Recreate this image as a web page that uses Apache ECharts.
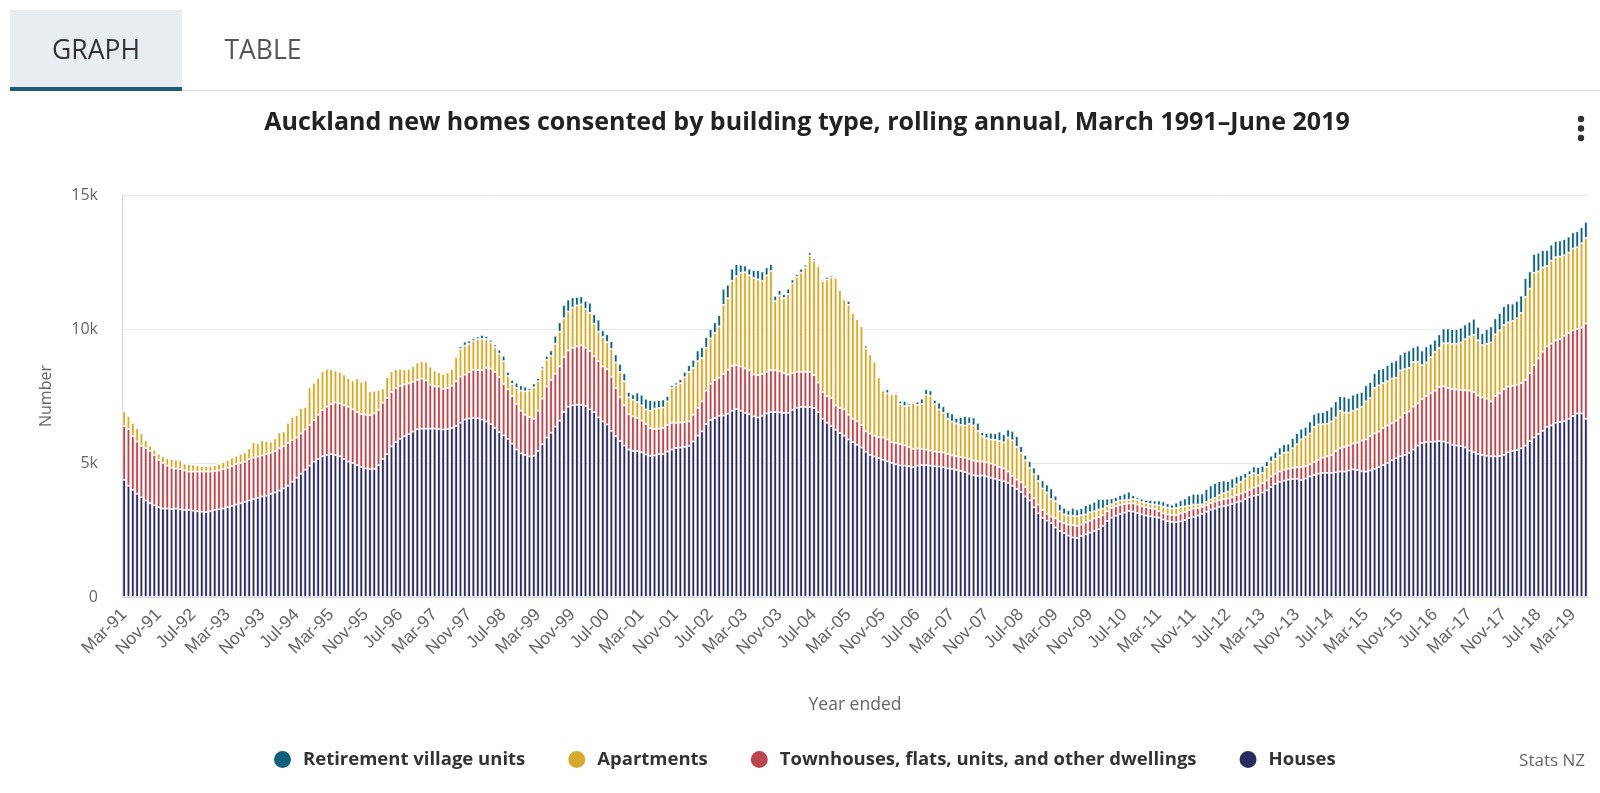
<!DOCTYPE html>
<html>
<head>
<meta charset="utf-8">
<script src="https://cdn.jsdelivr.net/npm/echarts@6/dist/echarts.min.js"></script>
<style>
html,body{margin:0;padding:0;background:#fff;}
#chart{width:1600px;height:793px;}
</style>
</head>
<body>
<div id="chart"></div>
<script>
// ---- Data (rolling annual counts, Mar-91 .. Jun-19) ----
const monthNames = ['Jan','Feb','Mar','Apr','May','Jun','Jul','Aug','Sep','Oct','Nov','Dec'];
const startYear = 1991, startMonth = 2, monthCount = 340;
const yTicks = [0, 5000, 10000, 15000];
const yTickLabels = ['0', '5k', '10k', '15k'];

const houses = [
4370,4150,4000,3850,3720,3600,3500,3420,3350,3300,
3300,3280,3300,3270,3250,3250,3220,3200,3180,3170,
3200,3250,3270,3300,3350,3400,3450,3500,3550,3600,
3650,3700,3750,3780,3850,3900,3970,4050,4150,4300,
4450,4600,4750,4900,5050,5150,5250,5300,5330,5300,
5250,5150,5050,5000,4920,4850,4800,4770,4780,4920,
5150,5330,5620,5780,5900,6000,6080,6170,6260,6280,
6280,6280,6280,6270,6250,6270,6300,6380,6500,6620,
6660,6680,6670,6620,6550,6450,6310,6150,6030,5900,
5720,5500,5360,5300,5250,5270,5450,5700,5950,6130,
6360,6580,6900,7100,7150,7170,7170,7130,7000,6900,
6700,6550,6440,6200,6000,5820,5650,5500,5450,5450,
5400,5320,5270,5280,5330,5330,5430,5500,5560,5580,
5600,5640,5800,6020,6180,6450,6600,6680,6760,6770,
6840,6950,7010,6950,6870,6820,6740,6700,6760,6850,
6900,6900,6890,6870,6870,6980,7060,7090,7090,7090,
7050,6900,6650,6500,6380,6240,6120,6020,5880,5780,
5680,5580,5420,5300,5240,5180,5120,5060,5000,4950,
4910,4900,4880,4850,4900,4920,4920,4900,4880,4870,
4840,4800,4780,4740,4700,4660,4600,4540,4520,4530,
4500,4450,4410,4360,4320,4260,4150,4030,3920,3750,
3600,3350,3120,2950,2850,2760,2600,2460,2380,2290,
2220,2200,2280,2340,2400,2460,2530,2650,2840,2960,
3030,3090,3150,3210,3190,3130,3080,3040,3010,2990,
2960,2890,2830,2800,2790,2820,2870,2950,2990,3040,
3100,3180,3260,3300,3360,3390,3420,3470,3530,3570,
3650,3720,3780,3810,3900,3980,4100,4220,4300,4340,
4380,4400,4410,4360,4420,4500,4550,4600,4630,4630,
4630,4650,4680,4680,4720,4760,4740,4690,4680,4720,
4780,4850,4920,5000,5100,5180,5250,5300,5380,5500,
5650,5740,5780,5790,5800,5820,5800,5760,5680,5650,
5630,5580,5460,5400,5340,5300,5270,5250,5250,5260,
5300,5400,5450,5480,5550,5650,5820,5950,6080,6200,
6350,6400,6500,6530,6560,6650,6750,6850,6850,6650
];

const townhouses = [
2010,2120,2000,1950,1920,1950,1950,1880,1770,1700,
1600,1540,1490,1500,1470,1430,1460,1480,1500,1510,
1480,1450,1450,1470,1470,1480,1510,1500,1500,1550,
1550,1540,1530,1550,1530,1550,1580,1570,1600,1550,
1500,1500,1500,1520,1550,1650,1720,1800,1870,1960,
1970,2000,2050,2000,1980,1970,2000,2010,2070,2060,
2100,2100,2030,2020,1980,1930,1890,1860,1840,1870,
1800,1640,1580,1580,1520,1530,1580,1670,1720,1680,
1740,1800,1800,1840,2000,2070,2090,2050,1920,1850,
1780,1700,1590,1500,1470,1380,1500,1700,1900,1970,
1970,2020,2050,2100,2150,2180,2220,2170,2180,2080,
2100,2050,2060,2020,1800,1630,1500,1320,1290,1230,
1180,1130,1030,990,950,970,990,1000,940,930,
920,910,1000,1030,1120,1250,1350,1420,1420,1550,
1640,1670,1640,1650,1660,1640,1560,1580,1560,1550,
1560,1560,1530,1480,1430,1370,1340,1310,1310,1310,
1230,1100,1000,1000,1040,910,930,980,920,870,
880,840,760,800,780,780,830,820,780,800,
800,760,720,680,640,610,580,560,550,540,
550,540,500,510,520,540,550,550,540,520,
520,530,520,490,480,420,370,350,360,350,
300,330,330,300,250,240,340,360,380,410,
460,450,420,440,450,470,450,400,360,360,
360,350,320,280,300,320,300,310,300,300,
240,230,250,260,270,300,300,290,310,280,
260,240,240,260,250,260,260,250,270,290,
270,280,300,340,350,370,400,380,380,410,
410,420,430,490,460,450,490,520,570,620,
670,800,870,920,930,970,1020,1150,1200,1280,
1320,1320,1380,1400,1380,1400,1450,1560,1540,1600,
1570,1640,1720,1810,1900,2020,2060,2040,2080,2090,
2100,2130,2240,2250,2180,2150,2130,2050,2250,2340,
2450,2450,2430,2440,2430,2450,2530,2700,2820,2950,
3000,3050,3070,3090,3190,3200,3200,3150,3200,3550
];

const apartments = [
550,490,500,500,480,300,200,200,230,250,
280,330,340,330,260,280,260,240,220,200,
220,220,250,260,300,320,310,350,350,400,
580,510,570,500,420,470,600,560,750,870,
850,950,850,1400,1400,1380,1450,1420,1300,1190,
1180,1150,1080,1080,1260,1210,1280,890,850,750,
530,770,770,700,640,560,550,590,650,650,
700,680,590,550,560,580,620,900,1030,1080,
1050,1070,1150,1170,1070,980,920,880,850,500,
450,600,750,870,980,1170,1100,1100,1000,900,
1120,1300,1450,1450,1500,1530,1530,1450,1420,1220,
1100,1100,1010,1030,950,950,900,630,620,600,
570,550,650,760,770,770,880,1300,1400,1470,
1680,1850,1750,1750,1620,1600,1700,1750,1920,2580,
2670,3180,3320,3500,3590,3540,3600,3570,3480,3600,
3710,2580,2830,2800,3000,3350,3550,3700,3900,4340,
4270,4350,4150,4350,4510,4750,4400,4100,4100,3950,
3810,3680,3100,2950,2760,2240,1750,1720,1770,1830,
1490,1460,1550,1710,1630,1670,2050,2050,1770,1590,
1480,1310,1270,1230,1200,1200,1310,1310,1140,950,
900,900,930,970,970,1270,1330,1220,1100,1000,
920,900,880,800,800,650,640,380,320,340,
350,370,350,300,310,270,280,250,200,140,
160,160,140,140,160,170,170,150,160,160,
220,250,250,240,260,240,210,170,150,130,
100,130,140,140,190,220,250,330,400,440,
500,550,540,400,380,500,550,550,600,630,
610,730,860,1030,1100,1150,1310,1320,1250,1220,
1250,1250,1400,1280,1230,1220,1250,1260,1420,1420,
1700,1730,1680,1650,1670,1600,1750,1640,1630,1670,
1560,1270,1250,1350,1450,1460,1610,1670,1690,1710,
1770,1910,2020,2130,2060,1950,2050,2200,2300,2350,
2400,2400,2420,2480,2620,3100,3150,3450,3250,3150,
3000,3100,3110,3080,3000,3000,3050,3050,3150,3200
];

const retirement = [
0,0,0,0,0,0,0,0,0,0,
0,0,0,40,0,0,30,30,0,0,
0,40,20,0,0,0,0,0,0,0,
0,0,0,0,0,0,0,0,0,0,
0,0,0,0,0,0,0,0,0,0,
0,0,0,0,0,0,0,0,0,0,
0,0,0,0,0,0,0,0,0,0,
0,0,0,0,0,30,40,50,100,150,
120,100,100,150,120,100,100,150,200,150,
150,200,200,180,100,150,120,100,150,200,
300,350,500,450,380,320,300,300,380,350,
450,250,300,300,300,300,300,200,200,350,
400,400,400,300,300,300,200,100,100,150,
200,250,300,400,400,400,350,400,420,600,
500,450,450,300,250,250,300,350,350,300,
250,200,200,150,200,150,100,150,100,120,
80,60,50,100,80,60,50,40,150,40,
30,40,100,40,30,30,50,150,60,60,
120,200,80,50,120,200,200,200,150,250,
250,250,300,200,300,350,270,300,300,150,
200,250,250,350,300,300,350,400,250,200,
250,250,250,300,300,400,200,270,250,200,
300,250,270,350,320,350,400,350,270,220,
180,200,250,300,150,100,120,120,150,150,
180,200,170,150,200,250,300,380,400,400,
400,480,520,550,520,480,400,370,300,250,
200,170,250,300,270,220,220,270,300,320,
320,380,420,400,370,450,480,450,450,500,
550,600,550,600,550,600,600,550,600,600,
550,600,550,600,620,650,600,650,650,550,
600,550,600,500,450,500,550,550,550,550,
550,550,550,600,500,450,550,600,600,650,
700,700,650,650,650,700,650,700,700,650,
600,600,600,600,600,600,600,600,600,600
];

const seriesNames = ['Houses', 'Townhouses, flats, units, and other dwellings', 'Apartments', 'Retirement village units'];
const legendOrder = ['Retirement village units', 'Apartments', 'Townhouses, flats, units, and other dwellings', 'Houses'];
const colors = {'Houses':'#2b2a5c','Townhouses, flats, units, and other dwellings':'#b9474d','Apartments':'#d6aa2c','Retirement village units':'#10607a'};

const categories = [];
for (let k = 0; k < monthCount; k++) {
  const t = startMonth + k;
  const m = t % 12, y = startYear + Math.floor(t / 12);
  categories.push(monthNames[m] + '-' + String(y % 100).padStart(2, '0'));
}

const dataBySeries = [houses, townhouses, apartments, retirement];
const FONT = '"Open Sans", Lato, sans-serif';

const chart = echarts.init(document.getElementById('chart'), null, {renderer: 'canvas'});
chart.setOption({
  animation: false,
  backgroundColor: '#fff',
  textStyle: {fontFamily: FONT},
  graphic: [
    {type:'rect', shape:{x:10,y:10,width:172,height:79}, style:{fill:'#e7edf1'}},
    {type:'rect', shape:{x:10,y:87,width:172,height:4}, style:{fill:'#1b5d74'}},
    {type:'rect', shape:{x:182,y:90,width:1418,height:1}, style:{fill:'#dddddd'}},
    {type:'text', x:96, y:51, style:{text:'GRAPH', fill:'#333', font:'400 26.5px ' + FONT, textAlign:'center', textVerticalAlign:'middle'}},
    {type:'text', x:263, y:51, style:{text:'TABLE', fill:'#555', font:'400 26.5px ' + FONT, textAlign:'center', textVerticalAlign:'middle'}},
    {type:'text', x:807, y:123, style:{text:'Auckland new homes consented by building type, rolling annual, March 1991\u2013June 2019', fill:'#222', font:'700 25px ' + FONT, textAlign:'center', textVerticalAlign:'middle'}},
    {type:'circle', shape:{cx:1581, cy:119, r:3.2}, style:{fill:'#333'}},
    {type:'circle', shape:{cx:1581, cy:128.5, r:3.2}, style:{fill:'#333'}},
    {type:'circle', shape:{cx:1581, cy:138, r:3.2}, style:{fill:'#333'}},
    {type:'text', x:1585, y:761, style:{text:'Stats NZ', fill:'#666', font:'400 17px ' + FONT, textAlign:'right', textVerticalAlign:'middle'}}
  ],
  legend: {
    data: legendOrder,
    left: 267,
    top: 744,
    icon: 'circle',
    itemWidth: 19,
    itemHeight: 19,
    itemGap: 41,
    selectedMode: false,
    textStyle: {fontFamily: FONT, fontSize: 18.5, fontWeight: 700, color: '#333', padding:[0,0,0,6]}
  },
  grid: {left: 122, right: 12, top: 195, bottom: 196, containLabel: false},
  xAxis: {
    type: 'category',
    data: categories,
    name: 'Year ended',
    nameLocation: 'middle',
    nameGap: 99,
    nameTextStyle: {fontFamily: FONT, fontSize: 17.5, color: '#666'},
    axisLine: {lineStyle: {color: '#ccd6eb'}},
    axisTick: {interval: 7, alignWithLabel: true, length: 10, lineStyle: {color: '#ccd6eb'}},
    axisLabel: {interval: 7, rotate: 45, fontFamily: '"Liberation Sans", Arial, sans-serif', fontSize: 17.5, color: '#666', margin: 15}
  },
  yAxis: {
    type: 'value',
    min: 0, max: 15000, interval: 5000,
    name: 'Number',
    nameLocation: 'middle',
    nameGap: 68,
    nameRotate: 90,
    nameTextStyle: {fontFamily: FONT, fontSize: 16, color: '#666'},
    axisLine: {show: true, lineStyle: {color: '#ccd6eb'}},
    axisTick: {show: false},
    splitLine: {lineStyle: {color: '#e6e6e6'}},
    axisLabel: {fontFamily: FONT, fontSize: 16, color: '#666', margin: 24,
      formatter: v => yTickLabels[yTicks.indexOf(v)]}
  },
  series: seriesNames.map((n, idx) => ({
    name: n,
    type: 'bar',
    stack: 'total',
    data: dataBySeries[idx],
    barCategoryGap: '18%',
    itemStyle: {color: colors[n], borderColor: '#ffffff', borderWidth: 0.8},
    emphasis: {disabled: true}
  }))
});
</script>
</body>
</html>
